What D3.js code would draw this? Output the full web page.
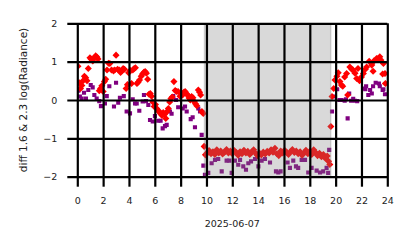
<!DOCTYPE html>
<html>
<head>
<meta charset="utf-8">
<script src="https://cdn.jsdelivr.net/npm/d3@7"></script>
<style>
  body { margin: 0; background: #fff; }
  text { font-family: "DejaVu Sans", sans-serif; fill: #222; }
</style>
</head>
<body>
<div id="chart"></div>
<script>
// Hour-of-day and value pairs
const redPoints = [
  [0.05, 0.88], [0.15, 0.45], [0.25, 0.3], [0.35, 0.38], [0.45, 0.5], [0.55, 0.62],
  [0.65, 0.58], [0.75, 0.5], [0.85, 0.82], [0.98, 1.1], [1.08, 1.06], [1.2, 1.02],
  [1.3, 1.1], [1.42, 1.15], [1.52, 1.12], [1.6, 1.07], [1.7, 0.24], [1.8, 0.3],
  [1.9, 0.37], [2.0, 0.22], [2.1, 0.48], [2.2, 0.54], [2.3, 0.78], [2.42, 0.96],
  [2.52, 0.95], [2.65, 0.78], [2.8, 0.76], [2.9, 0.78], [3.0, 1.17], [3.12, 0.8],
  [3.25, 0.78], [3.35, 0.72], [3.45, 0.76], [3.55, 0.82], [3.65, 0.8], [3.78, 0.3],
  [3.88, 0.4], [3.97, 0.71], [4.1, 0.77], [4.2, 0.43], [4.3, 0.78], [4.4, 0.82],
  [4.5, 0.84], [4.62, 0.43], [4.72, 0.47], [4.82, 0.52], [4.95, 0.62], [5.05, 0.68],
  [5.15, 0.72], [5.25, 0.74], [5.35, 0.7], [5.45, 0.54], [5.55, 0.15], [5.65, 0.17],
  [5.75, 0.1], [5.85, -0.05], [5.95, -0.17], [6.05, -0.12], [6.15, -0.22], [6.25, -0.28],
  [6.35, -0.3], [6.45, -0.36], [6.55, -0.4], [6.65, -0.33], [6.75, -0.38], [6.85, -0.48],
  [6.95, -0.3], [7.05, -0.22], [7.15, -0.05], [7.25, 0.04], [7.35, 0.08], [7.48, 0.48],
  [7.58, 0.25], [7.68, 0.22], [7.8, 0.22], [7.95, 0.1], [8.05, 0.16], [8.15, 0.13],
  [8.25, 0.2], [8.35, 0.22], [8.45, 0.16], [8.55, 0.13], [8.65, 0.05], [8.75, 0.0],
  [8.85, 0.09], [8.95, 0.06], [9.05, -0.04], [9.15, -0.1], [9.25, -0.15], [9.37, 0.26],
  [9.47, 0.2], [9.55, 0.13], [9.65, -0.3], [9.75, -0.35], [9.82, -1.21], [9.92, -1.43],
  [10.05, -1.38], [10.2, -1.32], [10.35, -1.4], [10.5, -1.35], [10.65, -1.42], [10.8, -1.3],
  [10.95, -1.38], [11.1, -1.33], [11.25, -1.41], [11.4, -1.36], [11.55, -1.29], [11.7, -1.38],
  [11.85, -1.33], [12.0, -1.4], [12.15, -1.32], [12.3, -1.37], [12.45, -1.44], [12.6, -1.35],
  [12.75, -1.4], [12.9, -1.31], [13.05, -1.38], [13.2, -1.34], [13.35, -1.42], [13.5, -1.36],
  [13.65, -1.3], [13.8, -1.39], [13.95, -1.45], [14.1, -1.38], [14.25, -1.43], [14.4, -1.36],
  [14.55, -1.41], [14.7, -1.34], [14.85, -1.38], [15.0, -1.3], [15.15, -1.36], [15.3, -1.26],
  [15.45, -1.4], [15.6, -1.45], [15.75, -1.33], [15.9, -1.38], [16.05, -1.31], [16.2, -1.36],
  [16.35, -1.42], [16.5, -1.35], [16.65, -1.29], [16.8, -1.37], [16.95, -1.33], [17.1, -1.4],
  [17.25, -1.35], [17.4, -1.44], [17.55, -1.38], [17.7, -1.31], [17.85, -1.4], [18.0, -1.34],
  [18.15, -1.42], [18.3, -1.3], [18.45, -1.37], [18.6, -1.45], [18.75, -1.39], [18.9, -1.48],
  [19.05, -1.42], [19.2, -1.52], [19.35, -1.46], [19.45, -1.6], [19.55, -1.68], [19.63, -0.69],
  [19.72, 0.09], [19.85, 0.3], [19.95, 0.52], [20.1, 0.62], [20.2, 0.71], [20.33, 0.48],
  [20.45, 0.39], [20.55, 0.36], [20.7, 0.6], [20.85, 0.69], [20.93, 0.13], [21.1, 0.86],
  [21.25, 0.8], [21.35, 0.78], [21.5, 0.7], [21.63, 0.56], [21.73, 0.82], [21.85, 0.5],
  [22.0, 0.6], [22.15, 0.69], [22.3, 0.8], [22.4, 0.86], [22.6, 1.01], [22.8, 0.91],
  [22.9, 0.75], [22.97, 1.02], [23.17, 1.08], [23.3, 1.08], [23.42, 1.13], [23.5, 1.04],
  [23.64, 0.68], [23.7, 0.95], [23.82, 0.69], [23.85, 0.43]
];

const purplePoints = [
  [0.08, 0.24], [0.2, 0.09], [0.34, 0.04], [0.52, 0.19], [0.67, 0.04], [0.85, 0.26],
  [1.04, 0.39], [1.19, 0.33], [1.32, 0.13], [1.5, 0.04], [1.7, -0.03], [1.83, -0.16],
  [2.14, -0.09], [2.28, 0.1], [2.48, 0.36], [2.84, -0.17], [3.0, 0.45], [3.17, -0.07],
  [3.3, 0.06], [3.6, 0.1], [3.82, -0.3], [4.08, -0.35], [4.29, 0.02], [4.47, -0.09],
  [4.6, -0.09], [4.8, -0.28], [5.06, -0.04], [5.16, 0.13], [5.32, -0.03], [5.5, -0.13],
  [5.63, -0.52], [5.84, -0.56], [6.01, -0.42], [6.27, -0.54], [6.45, -0.54], [6.61, -0.74],
  [6.79, -0.68], [6.92, -0.65], [7.17, -0.3], [7.3, -0.36], [7.43, 0.1], [7.64, 0.0],
  [7.81, -0.19], [8.16, -0.22], [8.34, -0.17], [8.47, -0.3], [8.78, -0.5], [8.93, -0.45],
  [9.11, -0.71], [9.37, -0.22], [9.5, -0.3], [9.63, -0.91], [9.76, -1.71], [9.88, -1.95],
  [10.14, -1.9], [10.4, -1.65], [10.66, -1.56], [10.91, -1.54], [11.18, -1.86], [11.56, -1.58],
  [11.77, -1.58], [11.95, -1.9], [12.2, -1.58], [12.46, -1.69], [12.6, -1.56], [12.85, -1.73],
  [13.06, -1.82], [13.24, -1.65], [13.45, -1.6], [13.76, -1.54], [14.02, -1.73], [14.27, -1.58],
  [14.53, -1.54], [14.92, -1.63], [15.38, -1.86], [15.56, -1.89], [15.74, -1.86], [16.28, -1.63],
  [16.46, -1.77], [16.72, -1.58], [16.93, -1.73], [17.1, -1.77], [17.37, -1.56], [17.63, -1.56],
  [17.88, -1.89], [18.14, -1.77], [18.53, -1.84], [18.79, -1.89], [19.04, -1.86], [19.3, -1.77],
  [19.42, -1.9], [19.5, -1.3], [19.72, -0.3], [19.95, 0.09], [20.12, 0.28], [20.3, 0.0],
  [20.46, 0.0], [20.7, -0.02], [20.8, 0.02], [20.93, -0.48], [21.05, 0.17], [21.2, -0.02],
  [21.36, 0.03], [21.5, -0.02], [21.67, -0.03], [22.15, 0.3], [22.3, 0.28], [22.36, 0.36],
  [22.53, 0.13], [22.67, 0.26], [22.8, 0.17], [22.9, 0.36], [23.1, 0.45], [23.35, 0.43],
  [23.42, 0.36], [23.64, 0.26], [23.7, 0.28], [23.82, 0.15]
];

const xTicks = [0, 2, 4, 6, 8, 10, 12, 14, 16, 18, 20, 22, 24];
const yTicks = [-2, -1, 0, 1, 2];
const nightSpan = [9.85, 19.62];
const xLabel = "2025-06-07";
const yLabel = "diff 1.6 & 2.3  log(Radiance)";

const width = 414;
const height = 248;
const margin = { top: 23.3, right: 26.7, bottom: 71.3, left: 77.3 };

const x = d3.scaleLinear().domain([0, 24]).range([margin.left, width - margin.right]);
const y = d3.scaleLinear().domain([-2, 2]).range([height - margin.bottom, margin.top]);

const svg = d3.select("#chart").append("svg")
  .attr("width", width)
  .attr("height", height);

svg.append("clipPath").attr("id", "plot-clip")
  .append("rect")
  .attr("x", margin.left)
  .attr("y", margin.top)
  .attr("width", width - margin.left - margin.right)
  .attr("height", height - margin.top - margin.bottom);

const plot = svg.append("g").attr("clip-path", "url(#plot-clip)");

// Purple squares then red diamonds
const square = d3.symbol().type(d3.symbolSquare);
plot.append("g")
  .selectAll("path")
  .data(purplePoints)
  .join("path")
  .attr("d", square.size(17)())
  .attr("transform", (d) => `translate(${x(d[0])},${y(d[1])})`)
  .attr("fill", "#800080");

plot.append("g")
  .selectAll("path")
  .data(redPoints)
  .join("path")
  .attr("d", d3.symbol().type(d3.symbolSquare).size(25)())
  .attr("transform", (d) => `translate(${x(d[0])},${y(d[1])}) rotate(45)`)
  .attr("fill", "#ff0000");

// Shaded night period, over the points
plot.append("rect")
  .attr("x", x(nightSpan[0]))
  .attr("y", margin.top)
  .attr("width", x(nightSpan[1]) - x(nightSpan[0]))
  .attr("height", height - margin.top - margin.bottom)
  .attr("fill", "grey")
  .attr("fill-opacity", 0.3)
  .attr("stroke", "grey")
  .attr("stroke-opacity", 0.3)
  .attr("stroke-width", 1.5);

// Grid + ticks
const tickLen = 10;
const xGrid = d3.axisBottom(x)
  .tickValues(xTicks)
  .tickSize(-(height - margin.top - margin.bottom) - tickLen)
  .tickPadding(10.5)
  .tickFormat(d3.format("d"));
const yGrid = d3.axisLeft(y)
  .tickValues(yTicks)
  .tickSize(-(width - margin.left - margin.right) - tickLen)
  .tickPadding(10)
  .tickFormat((d) => (d < 0 ? "\u2212" + Math.abs(d) : d));

const gx = svg.append("g")
  .attr("transform", `translate(0,${height - margin.bottom + tickLen})`)
  .call(xGrid);
const gy = svg.append("g")
  .attr("transform", `translate(${margin.left - tickLen},0)`)
  .call(yGrid);

[gx, gy].forEach((g) => {
  g.select(".domain").remove();
  g.selectAll(".tick line").attr("stroke", "#000").attr("stroke-width", 2.2);
  g.selectAll(".tick text").style("font-size", "9.5px").attr("fill", "#222");
});

svg.append("text")
  .attr("x", (margin.left + width - margin.right) / 2)
  .attr("y", 226.5)
  .attr("text-anchor", "middle")
  .style("font-size", "9.5px")
  .text(xLabel);

svg.append("text")
  .attr("transform", `translate(27,${(margin.top + height - margin.bottom) / 2}) rotate(-90)`)
  .attr("text-anchor", "middle")
  .style("font-size", "10.5px")
  .text(yLabel);
</script>
</body>
</html>
